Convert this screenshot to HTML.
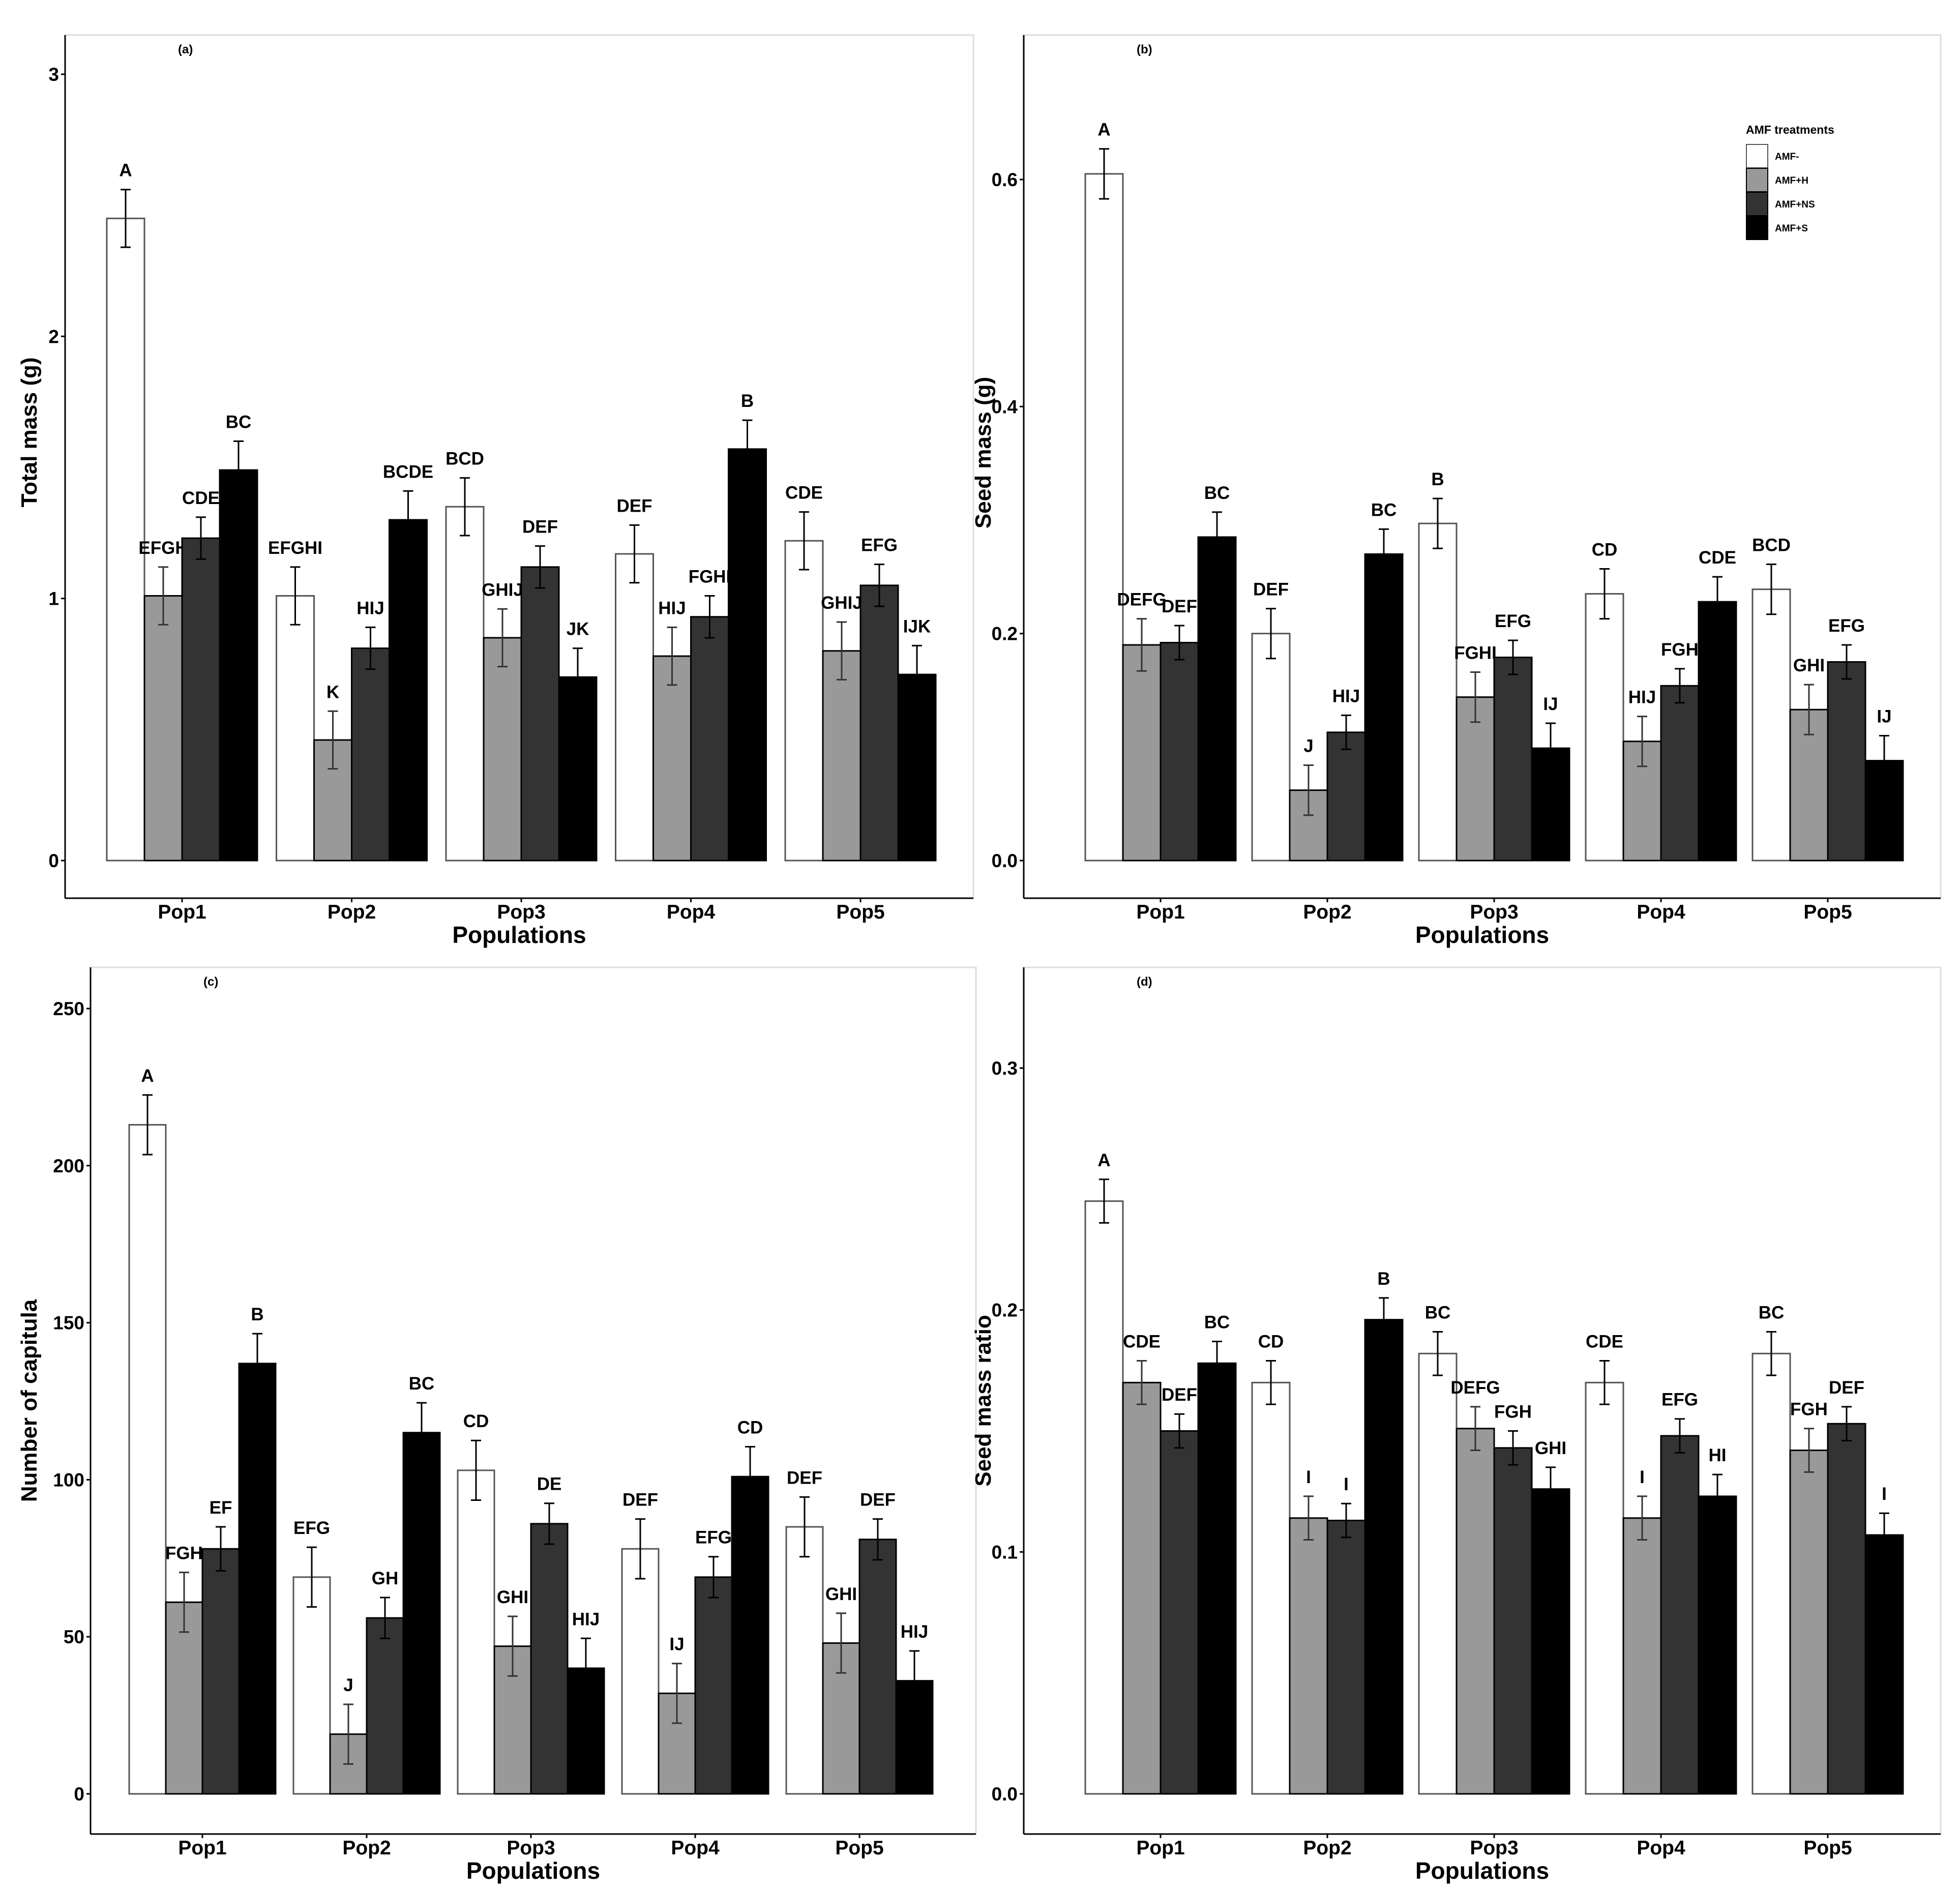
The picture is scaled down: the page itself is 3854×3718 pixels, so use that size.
<!DOCTYPE html>
<html><head><meta charset="utf-8"><style>
html,body{margin:0;padding:0;background:#fff;}
svg{display:block;font-family:"Liberation Sans",Arial,sans-serif;}
</style></head><body>
<svg id="chart" width="3854" height="3718" viewBox="0 0 3854 3718" xmlns="http://www.w3.org/2000/svg"></svg>
<script>
const populations = ["Pop1","Pop2","Pop3","Pop4","Pop5"];
const treatments = ["AMF-","AMF+H","AMF+NS","AMF+S"];
const fills = ["#ffffff","#999999","#333333","#000000"];

const totalMass = [[2.45,1.01,1.23,1.49],[1.01,0.46,0.81,1.30],[1.35,0.85,1.12,0.70],[1.17,0.78,0.93,1.57],[1.22,0.80,1.05,0.71]];
const totalMassErr = [[0.11,0.11,0.08,0.11],[0.11,0.11,0.08,0.11],[0.11,0.11,0.08,0.11],[0.11,0.11,0.08,0.11],[0.11,0.11,0.08,0.11]];
const totalMassLetters = [["A","EFGH","CDE","BC"],["EFGHI","K","HIJ","BCDE"],["BCD","GHIJ","DEF","JK"],["DEF","HIJ","FGHI","B"],["CDE","GHIJ","EFG","IJK"]];
const totalMassTicks = [0,1,2,3];

const seedMass = [[0.605,0.19,0.192,0.285],[0.20,0.062,0.113,0.27],[0.297,0.144,0.179,0.099],[0.235,0.105,0.154,0.228],[0.239,0.133,0.175,0.088]];
const seedMassErr = [[0.022,0.023,0.015,0.022],[0.022,0.022,0.015,0.022],[0.022,0.022,0.015,0.022],[0.022,0.022,0.015,0.022],[0.022,0.022,0.015,0.022]];
const seedMassLetters = [["A","DEFG","DEF","BC"],["DEF","J","HIJ","BC"],["B","FGHI","EFG","IJ"],["CD","HIJ","FGH","CDE"],["BCD","GHI","EFG","IJ"]];
const seedMassTicks = [0.0,0.2,0.4,0.6];

const capitula = [[213,61,78,137],[69,19,56,115],[103,47,86,40],[78,32,69,101],[85,48,81,36]];
const capitulaErr = [[9.5,9.5,7,9.5],[9.5,9.5,6.5,9.5],[9.5,9.5,6.5,9.5],[9.5,9.5,6.5,9.5],[9.5,9.5,6.5,9.5]];
const capitulaLetters = [["A","FGH","EF","B"],["EFG","J","GH","BC"],["CD","GHI","DE","HIJ"],["DEF","IJ","EFG","CD"],["DEF","GHI","DEF","HIJ"]];
const capitulaTicks = [0,50,100,150,200,250];

const seedRatio = [[0.245,0.170,0.150,0.178],[0.170,0.114,0.113,0.196],[0.182,0.151,0.143,0.126],[0.170,0.114,0.148,0.123],[0.182,0.142,0.153,0.107]];
const seedRatioErr = [[0.009,0.009,0.007,0.009],[0.009,0.009,0.007,0.009],[0.009,0.009,0.007,0.009],[0.009,0.009,0.007,0.009],[0.009,0.009,0.007,0.009]];
const seedRatioLetters = [["A","CDE","DEF","BC"],["CD","I","I","B"],["BC","DEFG","FGH","GHI"],["CDE","I","EFG","HI"],["BC","FGH","DEF","I"]];
const seedRatioTicks = [0.0,0.1,0.2,0.3];

const NS="http://www.w3.org/2000/svg";
const svg=document.getElementById('chart');
function mk(tag,attrs,parent,text){const e=document.createElementNS(NS,tag);for(const k in attrs)e.setAttribute(k,attrs[k]);if(text!==undefined)e.textContent=text;(parent||svg).appendChild(e);return e;}

function panel(cfg){
  const g=mk('g',{});
  
  
  const yS=v=>cfg.y0-(v-cfg.vmin)/(cfg.vtop-cfg.vmin)*(cfg.y0-cfg.ytop);
  const xS=i=>cfg.x1+i*(cfg.x5-cfg.x1)/4;
  const bw=cfg.bw;
  const fr=mk('rect',{x:cfg.left,y:cfg.top,width:cfg.right-cfg.left,height:cfg.bottom-cfg.top,fill:'none',stroke:'#dddddd','stroke-width':3},g);
  
  
  const ya=mk('line',{x1:cfg.left,y1:cfg.top,x2:cfg.left,y2:cfg.bottom,stroke:'#000','stroke-width':3},g);
  
  
  const xa=mk('line',{x1:cfg.left,y1:cfg.bottom,x2:cfg.right,y2:cfg.bottom,stroke:'#000','stroke-width':3},g);
  
  
  cfg.ticks.forEach(t=>{
    const y=yS(t);
    mk('line',{x1:cfg.left-8,y1:y,x2:cfg.left,y2:y,stroke:'#000','stroke-width':3},g);
    const tl=mk('text',{x:cfg.left-12,y:y+13,'text-anchor':'end','font-size':37,'font-weight':'bold'},g,cfg.fmt(t));
    
    
  });
  populations.forEach((p,i)=>{
    const cx=xS(i);
    mk('line',{x1:cx,y1:cfg.bottom,x2:cx,y2:cfg.bottom+8,stroke:'#000','stroke-width':3},g);
    const xl=mk('text',{x:cx,y:cfg.bottom+40,'text-anchor':'middle','font-size':39,'font-weight':'bold'},g,p);
    
    
    for(let j=0;j<4;j++){
      const v=cfg.vals[i][j], e=cfg.err[i][j];
      const bx=cx+(j-2)*bw;
      const r=mk('rect',{x:bx,y:yS(v),width:bw,height:yS(0)-yS(v),fill:fills[j],stroke:j===0?'#555':'#000','stroke-width':3},g);
      
      
      const ex=bx+bw/2;
      const ec=j===1?'#333':'#000';
      mk('line',{x1:ex,y1:yS(v+e),x2:ex,y2:yS(v-e),stroke:ec,'stroke-width':3},g);
      mk('line',{x1:ex-10,y1:yS(v+e),x2:ex+10,y2:yS(v+e),stroke:ec,'stroke-width':3},g);
      mk('line',{x1:ex-10,y1:yS(v-e),x2:ex+10,y2:yS(v-e),stroke:ec,'stroke-width':3},g);
      const lt=mk('text',{x:ex,y:yS(v+e)-26,'text-anchor':'middle','font-size':35,'font-weight':'bold'},g,cfg.letters[i][j]);
      
      
    }
  });
  const xt=mk('text',{x:(cfg.left+cfg.right)/2,y:cfg.bottom+88,'text-anchor':'middle','font-size':46,'font-weight':'bold'},g,'Populations');
  
  
  const yt=mk('text',{x:cfg.ytx,y:cfg.ytc,'text-anchor':'middle','font-size':44,'font-weight':'bold',transform:`rotate(-90 ${cfg.ytx} ${cfg.ytc})`},g,cfg.ytitle);
  
  
  const pl=mk('text',{x:cfg.left+222,y:cfg.top+36,'font-size':24,'font-weight':'bold'},g,cfg.tag);
  
  
}

panel({name:'panel-a-total-mass',left:128,right:1914,top:69,bottom:1766,y0:1692,ytop:146,vmin:0,vtop:3,x1:358,x5:1692,bw:74,ticks:totalMassTicks,fmt:t=>String(t),vals:totalMass,err:totalMassErr,letters:totalMassLetters,ytitle:'Total mass (g)',ytx:72,ytc:850,tag:'(a)'});
panel({name:'panel-b-seed-mass',left:2013,right:3816,top:69,bottom:1766,y0:1692,ytop:353,vmin:0,vtop:0.6,x1:2282,x5:3594,bw:74,ticks:seedMassTicks,fmt:t=>t.toFixed(1),vals:seedMass,err:seedMassErr,letters:seedMassLetters,ytitle:'Seed mass (g)',ytx:1948,ytc:890,tag:'(b)'});
panel({name:'panel-c-capitula',left:178,right:1919,top:1902,bottom:3606,y0:3527,ytop:1983,vmin:0,vtop:250,x1:398,x5:1690,bw:72,ticks:capitulaTicks,fmt:t=>String(t),vals:capitula,err:capitulaErr,letters:capitulaLetters,ytitle:'Number of capitula',ytx:72,ytc:2754,tag:'(c)'});
panel({name:'panel-d-seed-ratio',left:2013,right:3816,top:1902,bottom:3606,y0:3527,ytop:2100,vmin:0,vtop:0.3,x1:2282,x5:3594,bw:74,ticks:seedRatioTicks,fmt:t=>t.toFixed(1),vals:seedRatio,err:seedRatioErr,letters:seedRatioLetters,ytitle:'Seed mass ratio',ytx:1948,ytc:2754,tag:'(d)'});

const lg=mk('g',{});


const lgt=mk('text',{x:3433,y:263,'font-size':23,'font-weight':'bold'},lg,'AMF treatments');


treatments.forEach((t,j)=>{
  const y=284+j*47;
  const k=mk('rect',{x:3434,y:y,width:42,height:46,fill:fills[j],stroke:j===0?'#555':'#000','stroke-width':2},lg);
  
  
  const l=mk('text',{x:3490,y:y+30,'font-size':19,'font-weight':'bold'},lg,t);
  
  
});
</script>
</body></html>
